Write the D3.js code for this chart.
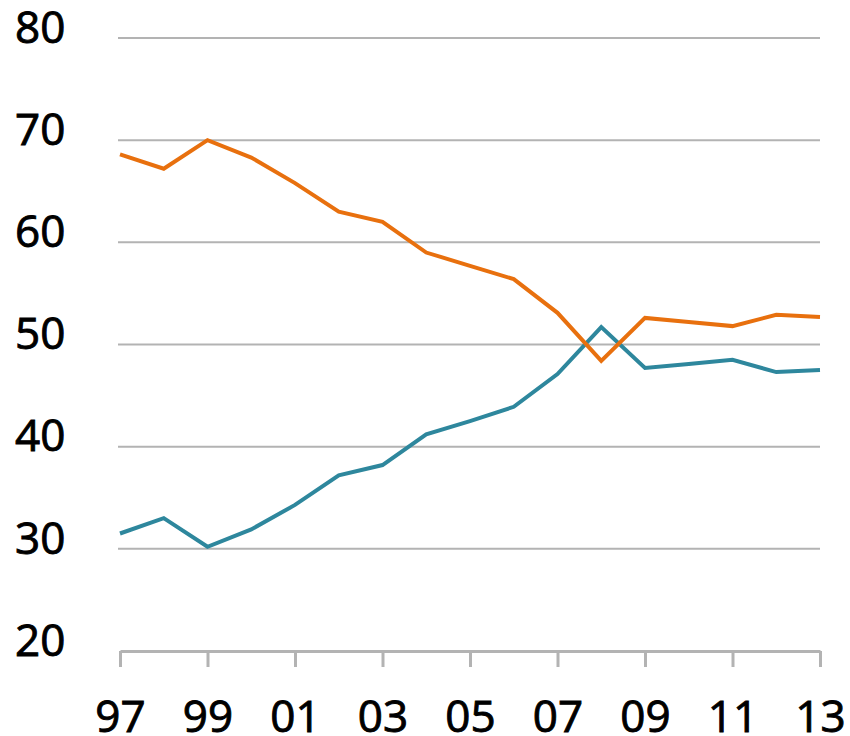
<!DOCTYPE html>
<html>
<head>
<meta charset="utf-8">
<script src="https://cdn.jsdelivr.net/npm/d3@7"></script>
<style>
  body { margin: 0; background: #fff; }
</style>
</head>
<body>
<div id="chart"></div>
<script>
// years shown on the x axis
const years = [1997, 1998, 1999, 2000, 2001, 2002, 2003, 2004, 2005, 2006, 2007, 2008, 2009, 2010, 2011, 2012, 2013];
const orangeValues = [68.6, 67.2, 70.0, 68.3, 65.8, 63.0, 62.0, 59.0, 57.7, 56.4, 53.1, 48.4, 52.6, 52.2, 51.8, 52.9, 52.7];
const blueValues = [31.5, 33.0, 30.2, 31.9, 34.3, 37.2, 38.2, 41.2, 42.5, 43.9, 47.1, 51.7, 47.7, 48.1, 48.5, 47.3, 47.5];
const yTicks = [20, 30, 40, 50, 60, 70, 80];

const width = 850, height = 736;
const margin = { top: 38, right: 30, bottom: 85, left: 120 };

const svg = d3.select('#chart')
    .append('svg')
    .attr('width', width)
    .attr('height', height);

const x = d3.scaleLinear()
    .domain([1997, 2013])
    .range([margin.left, width - margin.right]);

const y = d3.scaleLinear()
    .domain([20, 80])
    .range([height - margin.bottom, margin.top]);

const font = '"Open Sans", sans-serif';

// horizontal grid lines (not at 20, that one is the axis)
svg.append('g')
    .selectAll('line')
    .data(yTicks.filter(d => d > 20))
    .join('line')
    .attr('x1', x(1997) - 2)
    .attr('x2', x(2013))
    .attr('y1', d => y(d))
    .attr('y2', d => y(d))
    .attr('stroke', '#b3b3b3')
    .attr('stroke-width', 2);

// y labels (thin stroke makes them a bit heavier, like a medium weight)
svg.append('g')
    .attr('font-family', font)
    .attr('font-size', 44)
    .attr('fill', '#000')
    .attr('stroke', '#000')
    .attr('stroke-width', 0.9)
    .selectAll('text')
    .data(yTicks)
    .join('text')
    .attr('x', 15)
    .attr('y', d => y(d) - 7)
    .attr('dominant-baseline', 'middle')
    .text(d => d);

// x axis with a tick every year
const xAxis = svg.append('g')
    .attr('transform', `translate(0,${y(20)})`)
    .call(d3.axisBottom(x)
        .tickValues(years.filter(d => d % 2 === 1))
        .tickSize(16)
        .tickSizeOuter(0)
        .tickFormat(d => String(d).slice(2)));

xAxis.select('.domain')
    .attr('stroke', '#b3b3b3')
    .attr('stroke-width', 3);
xAxis.selectAll('.tick line')
    .attr('stroke', '#b3b3b3')
    .attr('stroke-width', 3);
xAxis.selectAll('.tick text')
    .attr('font-family', font)
    .attr('font-size', 44)
    .attr('fill', '#000')
    .attr('stroke', '#000')
    .attr('stroke-width', 0.9)
    .attr('dy', 0)
    .attr('y', 81);

// the two series
const line = d3.line()
    .x((d, i) => x(years[i]))
    .y(d => y(d));

svg.append('path')
    .datum(blueValues)
    .attr('fill', 'none')
    .attr('stroke', '#2e879d')
    .attr('stroke-width', 4)
    .attr('stroke-linejoin', 'miter')
    .attr('d', line);

svg.append('path')
    .datum(orangeValues)
    .attr('fill', 'none')
    .attr('stroke', '#e8700e')
    .attr('stroke-width', 4)
    .attr('stroke-linejoin', 'miter')
    .attr('d', line);
</script>
</body>
</html>
